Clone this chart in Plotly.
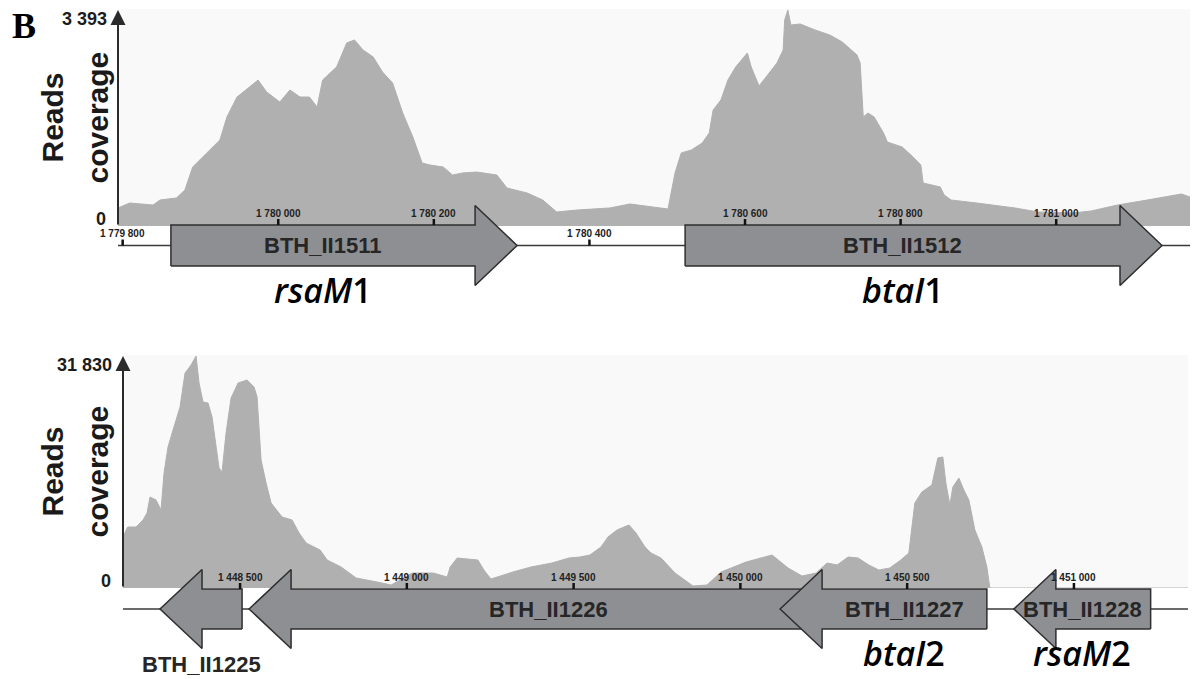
import plotly.graph_objects as go

W, H = 1192, 679

# ---------------- Region 1: rsaM1 / btaI1 locus ----------------
top_pos = [1779794, 1779809, 1779839, 1779848, 1779869, 1779880, 1779890, 1779908, 1779925, 1779934,
           1779947, 1779963, 1779974, 1779985, 1780002, 1780015, 1780028, 1780040, 1780050, 1780057,
           1780075, 1780088, 1780098, 1780109, 1780122, 1780134, 1780147, 1780160, 1780173, 1780185,
           1780195, 1780212, 1780224, 1780237, 1780255, 1780281, 1780294, 1780320, 1780340, 1780358,
           1780384, 1780426, 1780452, 1780501, 1780506, 1780510, 1780518, 1780531, 1780545, 1780554,
           1780559, 1780569, 1780578, 1780588, 1780603, 1780608, 1780618, 1780627, 1780641, 1780649,
           1780651, 1780655, 1780659, 1780671, 1780690, 1780709, 1780725, 1780744, 1780748, 1780752,
           1780758, 1780766, 1780778, 1780783, 1780802, 1780816, 1780826, 1780829, 1780851, 1780856,
           1780865, 1780898, 1780947, 1780977, 1781021, 1781045, 1781079, 1781117, 1781161, 1781172]
top_reads = [283, 361, 330, 408, 440, 565, 927, 1147, 1351, 1712,
             2026, 2183, 2293, 2105, 1948, 2136, 2026, 2026, 1869, 2293,
             2498, 2875, 2922, 2765, 2655, 2419, 2246, 1775, 1398, 990,
             958, 927, 801, 833, 848, 801, 597, 518, 408, 220,
             251, 283, 346, 267, 613, 833, 1147, 1194, 1304, 1461,
             1822, 1979, 2293, 2498, 2717, 2498, 2199, 2340, 2560, 2765,
             3236, 3393, 3157, 3173, 3079, 3000, 2890, 2686, 2560, 1712,
             1775, 1712, 1461, 1319, 1241, 1084, 958, 675, 613, 487,
             408, 361, 283, 220, 204, 236, 330, 408, 503, 456]
top_max = 3393
top_view = (1779794, 1781172)
top_ticks = [1779800, 1780000, 1780200, 1780400, 1780600, 1780800, 1781000]

top_genes = ["BTH_II1511", "BTH_II1512"]
top_gene_start = [1779862, 1780523]
top_gene_end = [1780307, 1781136]
top_gene_strand = ["+", "+"]
top_gene_alias = ["<i>rsaM</i>1", "<i>btaI</i>1"]

# ---------------- Region 2: btaI2 / rsaM2 locus ----------------
bot_pos = [1448149, 1448163, 1448188, 1448209, 1448221, 1448230, 1448248, 1448263, 1448272, 1448284,
           1448299, 1448320, 1448335, 1448353, 1448368, 1448377, 1448389, 1448404, 1448416, 1448425,
           1448437, 1448446, 1448458, 1448473, 1448494, 1448521, 1448542, 1448551, 1448563, 1448578,
           1448593, 1448626, 1448656, 1448677, 1448698, 1448740, 1448761, 1448803, 1448848, 1448911,
           1448953, 1449016, 1449079, 1449121, 1449130, 1449151, 1449213, 1449231, 1449252, 1449318,
           1449372, 1449435, 1449486, 1449519, 1449549, 1449582, 1449603, 1449630, 1449666, 1449687,
           1449714, 1449732, 1449762, 1449804, 1449858, 1449900, 1449942, 1450017, 1450059, 1450095,
           1450143, 1450185, 1450227, 1450260, 1450290, 1450323, 1450353, 1450385, 1450415, 1450448,
           1450481, 1450505, 1450523, 1450544, 1450574, 1450592, 1450607, 1450616, 1450628, 1450637,
           1450655, 1450670, 1450685, 1450703, 1450724, 1450739, 1450748, 1451342]
bot_reads = [6997, 8369, 8369, 9330, 10290, 12485, 12074, 10702, 15778, 19345,
             21678, 24833, 29498, 30596, 31830, 28126, 25519, 25382, 23461, 20306,
             16464, 15915, 21266, 26068, 28126, 28538, 27577, 26205, 17562, 14406,
             11662, 9741, 9330, 7546, 6174, 5214, 3842, 2881, 1372, 823,
             412, 2058, 2058, 1509, 2881, 4116, 3842, 2470, 1235, 2195,
             2881, 3430, 4116, 4253, 4528, 5625, 6997, 7958, 8644, 7546,
             5625, 4802, 4116, 2058, 274, 412, 2195, 3567, 4116, 4528,
             2744, 1646, 2058, 3430, 3156, 4253, 4116, 3156, 2470, 2744,
             3842, 4802, 11662, 13171, 14132, 17836, 17973, 14406, 11388, 13857,
             15092, 13446, 12074, 7958, 5625, 2881, 0, 0]
bot_max = 31830
bot_view = (1448149, 1451342)
bot_ticks = [1448500, 1449000, 1449500, 1450000, 1450500, 1451000]

bot_genes = ["BTH_II1225", "BTH_II1226", "BTH_II1227", "BTH_II1228"]
bot_gene_start = [1448260, 1448527, 1450119, 1450820]
bot_gene_end = [1448506, 1450194, 1450739, 1451230]
bot_gene_strand = ["-", "-", "-", "-"]
bot_gene_alias = [None, None, "<i>btaI</i>2", "<i>rsaM</i>2"]

# ---------------- styling ----------------
SANS = "Liberation Sans"
COV_COLOR = "#b0b0b0"
PANEL_BG = "#f9f9f9"
GENE_FILL = "#8e8f93"
EDGE = "#2e2e2e"
TEXT = "#262626"
HEAD_PX = 42          # arrow head length in pixels
LABEL_PX = 121        # approximate width of a locus tag label


def px_x(p):
    return p / W


def px_y(p):
    return 1 - p / H


def fmt(v):
    return f"{v:,}".replace(",", " ")


panels = [
    dict(pos=top_pos, reads=top_reads, peak=top_max, view=top_view, ticks=top_ticks,
         genes=top_genes, start=top_gene_start, end=top_gene_end, strand=top_gene_strand,
         alias=top_gene_alias, xdom=(118, 1190), cov=(9, 226), track=245.5,
         box_h=20.5, head_h=40),
    dict(pos=bot_pos, reads=bot_reads, peak=bot_max, view=bot_view, ticks=bot_ticks,
         genes=bot_genes, start=bot_gene_start, end=bot_gene_end, strand=bot_gene_strand,
         alias=bot_gene_alias, xdom=(123, 1188), cov=(355, 588), track=609,
         box_h=20, head_h=39.5),
]

fig = go.Figure()
layout = dict(width=W, height=H, margin=dict(l=0, r=0, t=0, b=0),
              paper_bgcolor="white", plot_bgcolor="rgba(0,0,0,0)",
              showlegend=False, hovermode=False)
annotations = []
shapes = []

for i, p in enumerate(panels):
    xs = "" if i == 0 else "2"
    xid = "x" + xs
    cy_n, gy_n = 2 * i + 1, 2 * i + 2
    cy = "y" if cy_n == 1 else f"y{cy_n}"
    gy = f"y{gy_n}"
    x0p, x1p = p["xdom"]
    ctop, cbot = p["cov"]
    tc = p["track"]
    v0, v1 = p["view"]
    bpp = (v1 - v0) / (x1p - x0p)
    head_bp = HEAD_PX * bpp
    bh, hh = p["box_h"], p["head_h"]

    layout["xaxis" + xs] = dict(domain=[px_x(x0p), px_x(x1p)], range=[v0, v1],
                                visible=False, anchor=cy)
    layout["yaxis" + ("" if cy_n == 1 else str(cy_n))] = dict(
        domain=[px_y(cbot), px_y(ctop)], range=[0, p["peak"] * 1.0045],
        visible=False, anchor=xid)
    layout[f"yaxis{gy_n}"] = dict(domain=[px_y(tc + 45), px_y(tc - 45)], range=[-45, 45],
                                  visible=False, anchor=xid)

    # light panel behind the coverage profile
    shapes.append(dict(type="rect", xref=f"{xid} domain", yref=f"{cy} domain",
                       x0=0, x1=1, y0=0, y1=1, fillcolor=PANEL_BG,
                       line=dict(width=0), layer="below"))

    # read coverage profile
    fig.add_trace(go.Scatter(x=p["pos"], y=p["reads"], xaxis=xid, yaxis=cy, mode="lines",
                             line=dict(color=COV_COLOR, width=1), fill="tozeroy",
                             fillcolor=COV_COLOR))

    # y axis with arrow head
    annotations.append(dict(xref=xid, yref=cy, x=v0, y=p["peak"], axref=xid, ayref=cy,
                            ax=v0, ay=0, text="", showarrow=True, arrowhead=2,
                            arrowsize=1.5, arrowwidth=2, arrowcolor="#2b2b2b"))
    annotations.append(dict(xref=xid, yref=cy, x=v0, y=p["peak"], text=fmt(p["peak"]),
                            showarrow=False, xanchor="right", yanchor="middle",
                            xshift=-9, yshift=-9,
                            font=dict(family=SANS, size=18, color="#1c1c1c", weight="bold")))
    annotations.append(dict(xref=xid, yref=cy, x=v0, y=0, text="0",
                            showarrow=False, xanchor="right", yanchor="middle",
                            xshift=-10, yshift=7,
                            font=dict(family=SANS, size=18, color="#1c1c1c", weight="bold")))
    ymid = px_y((ctop + cbot) / 2)
    for txt, xp in (("Reads", 52), ("coverage", 97)):
        annotations.append(dict(xref="paper", yref="paper", x=px_x(xp), y=ymid, text=txt,
                                textangle=-90, showarrow=False, xanchor="center",
                                yanchor="middle",
                                font=dict(family=SANS, size=30, color="#1a1a1a",
                                          weight="bold")))

    # chromosome line of the gene track
    fig.add_trace(go.Scatter(x=[v0, v1], y=[0, 0], xaxis=xid, yaxis=gy, mode="lines",
                             line=dict(color="#3a3a3a", width=1.3)))

    # gene arrows
    for name, s, e, strand, alias in zip(p["genes"], p["start"], p["end"],
                                         p["strand"], p["alias"]):
        if strand == "+":
            hb = e - head_bp
            xs_ = [s, s, hb, hb, e, hb, hb, s]
            ys_ = [-bh, bh, bh, hh, 0, -hh, -bh, -bh]
            shaft = (s, hb)
        else:
            hb = s + head_bp
            xs_ = [e, e, hb, hb, s, hb, hb, e]
            ys_ = [-bh, bh, bh, hh, 0, -hh, -bh, -bh]
            shaft = (hb, e)
        fig.add_trace(go.Scatter(x=xs_, y=ys_, xaxis=xid, yaxis=gy, mode="lines",
                                 fill="toself", fillcolor=GENE_FILL,
                                 line=dict(color=EDGE, width=1.5)))
        gene_px = (e - s) / bpp
        shaft_px = (shaft[1] - shaft[0]) / bpp
        if gene_px < LABEL_PX:
            lx, ly, dy = (s + e) / 2, -44, -11
        elif shaft_px < LABEL_PX:
            lx, ly, dy = (s + e) / 2, 0, 0
        else:
            lx, ly, dy = (shaft[0] + shaft[1]) / 2, 0, 0
        annotations.append(dict(xref=xid, yref=gy, x=lx, y=ly, yshift=dy, text=name,
                                showarrow=False, xanchor="center", yanchor="middle",
                                font=dict(family=SANS, size=22, color=TEXT, weight="bold")))
        if alias:
            annotations.append(dict(xref=xid, yref=gy, x=lx, y=-44, yshift=-25, text=alias,
                                    showarrow=False, xanchor="center", yanchor="bottom",
                                    font=dict(family="Open Sans", size=34, color="black",
                                              weight=600)))

    # coordinate ticks sitting on the gene track
    tx, ty = [], []
    for t in p["ticks"]:
        inside = any(s <= t <= e for s, e in zip(p["start"], p["end"]))
        base = bh if inside else 0
        tx += [t, t, None]
        ty += [base, base + 6, None]
        annotations.append(dict(xref=xid, yref=gy, x=t, y=base + 12, text=fmt(t),
                                showarrow=False, xanchor="center", yanchor="middle",
                                font=dict(family=SANS, size=10, color="#222222",
                                          weight="bold")))
    fig.add_trace(go.Scatter(x=tx, y=ty, xaxis=xid, yaxis=gy, mode="lines",
                             line=dict(color="#111111", width=2.5)))

# panel letter
annotations.append(dict(xref="paper", yref="paper", x=px_x(24), y=px_y(26), text="B",
                        showarrow=False, xanchor="center", yanchor="middle",
                        font=dict(family="Liberation Serif", size=36, color="black",
                                  weight="bold")))

layout["annotations"] = annotations
layout["shapes"] = shapes
fig.update_layout(**layout)
fig.write_html("out.html")
